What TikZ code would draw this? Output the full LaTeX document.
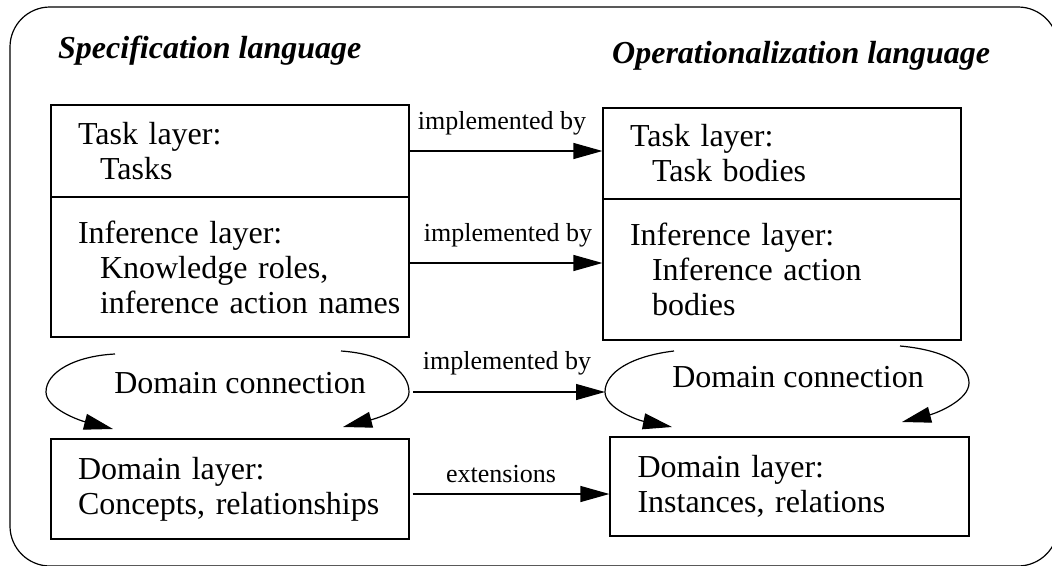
\documentclass[tikz,border=0pt]{standalone}
\usepackage{fontspec}
\setmainfont{Liberation Serif}
\usetikzlibrary{arrows.meta}

\begin{document}
\begin{tikzpicture}[x=1pt,y=-1pt]
\tikzstyle{layer}=[rectangle,draw=black,line width=1.2pt,inner xsep=27pt,inner ysep=0pt,text width=304pt,align=left,font=\fontsize{32}{35}\selectfont]
\tikzstyle{impl}=[-{Triangle[length=29pt,width=16pt]},line width=1.2pt]
\tikzstyle{lbl}=[inner sep=0pt,font=\fontsize{26}{30}\selectfont]
\tikzstyle{big}=[inner sep=0pt,font=\fontsize{32}{35}\selectfont]
\tikzstyle{head}=[inner sep=0pt,anchor=base west,font=\fontsize{32}{35}\selectfont\bfseries\itshape]
\useasboundingbox (0,0) rectangle (1052,565);
\draw[line width=1.2pt,rounded corners=40pt] (10,7) rectangle (1058,566);
% headings
\node[head] (spec) at (58,58) {Specification language};
\node[head] (oper) at (612,63) {Operationalization language};
% specification side
\node[layer,minimum height=92pt] (taskL) at (230,151) {Task layer:\\\hspace*{22pt}Tasks};
\node[layer,minimum height=140pt] (infL) at (230,267) {Inference layer:\\\hspace*{22pt}Knowledge roles,\\\hspace*{22pt}\mbox{inference action names}};
\node[layer,minimum height=100pt] (domL) at (230,489) {Domain layer:\\Concepts, relationships};
% operationalization side
\node[layer,minimum height=91pt] (taskR) at (782,153.5) {Task layer:\\\hspace*{22pt}Task bodies};
\node[layer,minimum height=141pt] (infR) at (782,269.5) {Inference layer:\\\hspace*{22pt}Inference action\\\hspace*{22pt}bodies};
\node[layer,minimum width=359pt,minimum height=99pt] (domR) at (789.5,486.5) {Domain layer:\\Instances, relations};
% domain connections
\node[big] (dcL) at (240,383) {Domain connection};
\node[big] (dcR) at (798,377) {Domain connection};
\coordinate (la) at (115,354);
\coordinate (lb) at (113,429);
\coordinate (lc) at (341,351);
\coordinate (ld) at (343,427);
\coordinate (le) at (409,392);
\coordinate (ra) at (674,351);
\coordinate (rb) at (672,427);
\coordinate (rc) at (900,346);
\coordinate (rd) at (902,422);
\coordinate (rw) at (605,392);
\draw[impl] (la) .. controls (75,356) and (46,372) .. (46,392) .. controls (46,408) and (78,420) .. (lb);
\draw[impl] (lc) .. controls (385,354) and (409,372) .. (le) .. controls (409,408) and (378,418) .. (ld);
\draw[impl] (ra) .. controls (632,356) and (605,372) .. (rw) .. controls (605,408) and (637,420) .. (rb);
\draw[impl] (rc) .. controls (945,350) and (969,365) .. (969,383) .. controls (969,400) and (937,413) .. (rd);
% arrows between the languages
\draw[impl] (taskL.east) -- (taskL.east -| taskR.west) node[lbl,midway,above=15pt,xshift=-4pt] {implemented by};
\draw[impl] ([yshift=4pt]infL.east) -- ([yshift=4pt]infL.east -| infR.west) node[lbl,midway,above=15pt,xshift=2pt] {implemented by};
\draw[impl] ([xshift=4pt]le) -- (rw) node[lbl,midway,above=16pt,xshift=-2pt] {implemented by};
\draw[impl] ([xshift=3pt,yshift=-5pt]domL.east) -- ([yshift=-5pt]domL.east -| domR.west) node[lbl,midway,above=11pt,xshift=-10pt] {extensions};
\end{tikzpicture}
\end{document}
